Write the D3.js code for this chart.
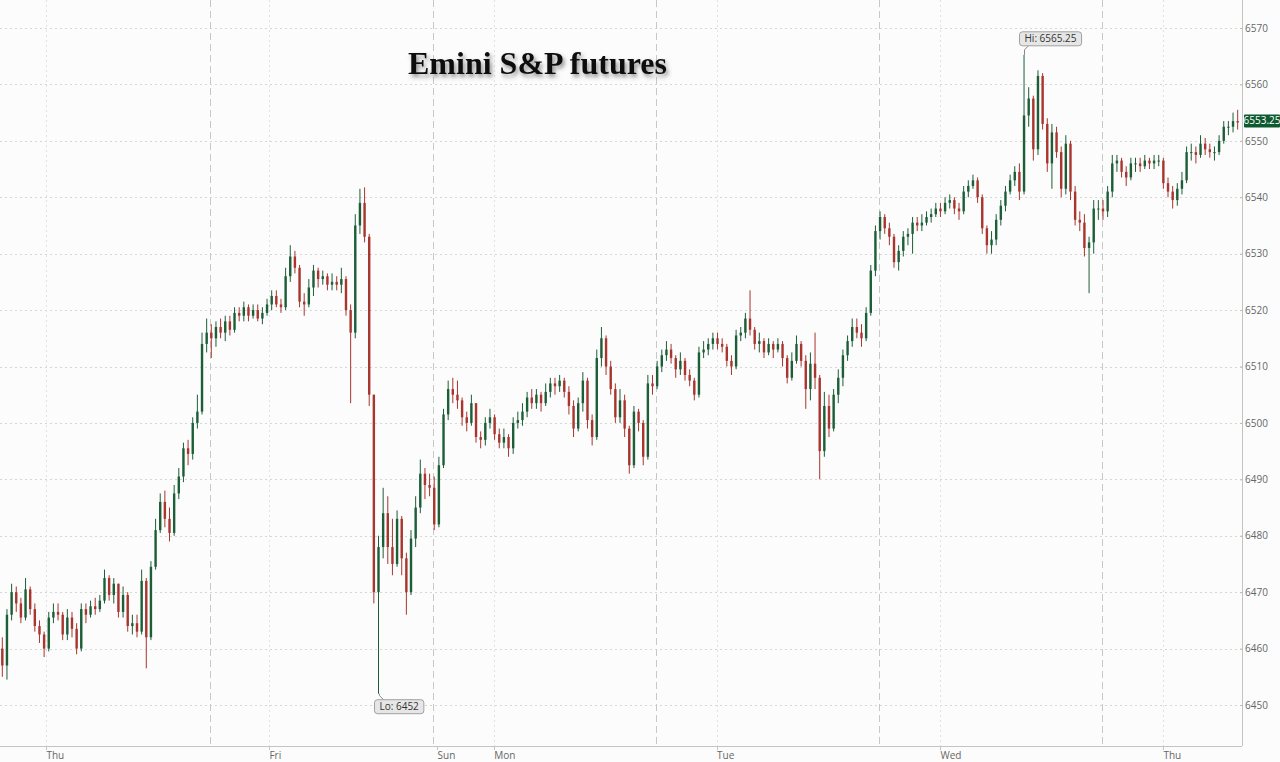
<!DOCTYPE html>
<html>
<head>
<meta charset="utf-8">
<script src="https://cdn.jsdelivr.net/npm/d3@7"></script>
<style>
  html, body { margin: 0; padding: 0; background: #fcfcfc; }
  svg { display: block; }
  text { font-family: "Open Sans", "Noto Sans", sans-serif; }
</style>
</head>
<body>
<svg id="chart" width="1280" height="762"></svg>
<script>
// ---- Data (30-minute bars) ----
const firstOpen = 6460;
const closes = [
  6457, 6466, 6470, 6468, 6465.5, 6470.5, 6467, 6464, 6462.5, 6460,
  6465.5, 6466.5, 6466, 6462.5, 6465.5, 6463.5, 6460, 6467, 6466, 6467.5,
  6467, 6468.5, 6472.5, 6469.5, 6471.5, 6466.5, 6469.5, 6464, 6464.5, 6463,
  6472, 6462, 6474.5, 6481, 6486, 6483, 6480.5, 6487.5, 6490.5, 6495.5,
  6494.5, 6500, 6502, 6514, 6516, 6515, 6517, 6516, 6518, 6516.5,
  6519.5, 6519, 6520.5, 6519, 6520, 6518.5, 6519.5, 6521, 6522.5, 6521,
  6520.5, 6526, 6529.5, 6527.5, 6521.5, 6521, 6524, 6527, 6525.5, 6526,
  6524.5, 6525, 6524.5, 6525.5, 6520, 6516, 6535, 6539, 6533, 6505,
  6470, 6478, 6484, 6478, 6475, 6483, 6476, 6470, 6479.5, 6485,
  6491, 6489, 6488.5, 6482, 6492.5, 6501.5, 6506, 6505, 6504, 6501,
  6500, 6503.5, 6497.5, 6497, 6500, 6501, 6498, 6496.5, 6497.5, 6495.5,
  6500, 6500.5, 6502, 6504.5, 6503.5, 6505, 6503.5, 6505.5, 6507, 6506.5,
  6507.5, 6505.5, 6503, 6499, 6503.5, 6507.5, 6500.5, 6497.5, 6511.5, 6515,
  6510, 6506, 6501, 6504, 6499, 6492.5, 6502, 6500, 6494, 6507,
  6506.5, 6510, 6512, 6513, 6511.5, 6509.5, 6511, 6508.5, 6507.5, 6505,
  6512.5, 6513, 6514, 6515, 6514, 6513.5, 6511, 6510, 6515.5, 6516,
  6518.5, 6516.5, 6514, 6514.5, 6512.5, 6514, 6513, 6514, 6511.5, 6508,
  6511, 6514, 6511, 6506, 6510.5, 6508, 6495, 6503, 6499, 6505,
  6508, 6512, 6514.5, 6517, 6516, 6515, 6519.5, 6527, 6534, 6536.5,
  6534.5, 6533, 6528.5, 6530.5, 6533, 6533.5, 6535.5, 6535, 6535.5, 6536.5,
  6537, 6538, 6537.5, 6539, 6539.5, 6538, 6537.5, 6541, 6542, 6543,
  6540, 6534.5, 6531.5, 6532.5, 6536, 6538.5, 6541, 6543, 6544.5, 6541,
  6554.5, 6557.5, 6548.5, 6561.5, 6553, 6546, 6551.5, 6548, 6541.5, 6549.5,
  6541, 6536, 6535.5, 6531, 6532, 6538, 6538, 6537.5, 6541, 6546,
  6546.5, 6544.5, 6543.5, 6546, 6546, 6545.5, 6546.5, 6546, 6546.5, 6546.5,
  6542.5, 6541, 6539.5, 6541.5, 6543, 6548, 6548, 6547.5, 6549.5, 6548.5,
  6548, 6548, 6550, 6552.5, 6552.5, 6553.5, 6553.25
];
const highs = [
  6462, 6467, 6471.5, 6471, 6469, 6472.5, 6471, 6468, 6465, 6463,
  6466.5, 6468, 6468, 6466.5, 6467, 6466.5, 6464.5, 6468, 6468, 6468.5,
  6469, 6469.5, 6474, 6473, 6472.5, 6471.5, 6471, 6470, 6466, 6466,
  6474, 6472.5, 6475.5, 6483, 6487.5, 6488, 6485, 6489, 6492, 6496.5,
  6497, 6501, 6505, 6516, 6518.5, 6517.5, 6518, 6518.5, 6519, 6519,
  6520.5, 6520.5, 6521.5, 6521, 6521, 6521, 6520.5, 6522, 6523.5, 6523.5,
  6522, 6527.5, 6531.5, 6530.5, 6528, 6523, 6525.5, 6528, 6527.5, 6527,
  6526.5, 6526.5, 6526, 6527.5, 6526, 6521, 6537, 6541.5, 6541.75, 6533.5,
  6505, 6480, 6488.5, 6487, 6483, 6484.5, 6483.5, 6477, 6481, 6487,
  6493.5, 6492, 6491, 6490.5, 6494, 6502.5, 6507.5, 6508, 6507.5, 6504.5,
  6502, 6505, 6503.5, 6498.5, 6501, 6502.5, 6501.5, 6499, 6499, 6498,
  6501, 6502, 6503.5, 6505.5, 6506, 6506, 6505.5, 6507, 6508, 6508,
  6508.5, 6508, 6506.5, 6504, 6504.5, 6509, 6508, 6501.5, 6513, 6517,
  6515.5, 6511, 6507, 6506, 6505, 6499.5, 6503, 6502.5, 6500.5, 6508.5,
  6508.5, 6511, 6513, 6514.5, 6514, 6512, 6512.5, 6511.5, 6509.5, 6508,
  6513.5, 6514.5, 6515, 6516, 6516, 6515, 6514, 6512, 6516.5, 6517,
  6519.5, 6523.5, 6517, 6516, 6515, 6515, 6514.5, 6515, 6514.5, 6512,
  6512.5, 6515.5, 6514.5, 6512, 6512.5, 6516, 6508.5, 6505.5, 6505, 6506,
  6509.5, 6513, 6515.5, 6518.5, 6518.5, 6517.5, 6520.5, 6528, 6535, 6537.5,
  6537, 6535.5, 6533.5, 6531.5, 6534, 6534.5, 6536.5, 6536.5, 6537, 6537.5,
  6538, 6539, 6539, 6540, 6540.5, 6540, 6539, 6542, 6543, 6544,
  6543.5, 6540.5, 6535, 6534, 6537, 6539.5, 6542, 6544, 6545.5, 6546,
  6565.25, 6559.5, 6558, 6562.5, 6562, 6554, 6553, 6552.5, 6549, 6551,
  6550, 6542, 6537.5, 6537, 6533, 6539.5, 6539.5, 6539.5, 6542, 6547.5,
  6547.5, 6547, 6545.5, 6547, 6547, 6547, 6547.5, 6547, 6547.5, 6547.5,
  6547, 6543.5, 6542, 6542.5, 6544.5, 6549, 6549.5, 6549, 6551, 6550.5,
  6549.5, 6549, 6551, 6553.5, 6553.5, 6555, 6555.5
];
const lows = [
  6455, 6454.5, 6465, 6466.5, 6464.5, 6465, 6466, 6463, 6461, 6458.5,
  6459.5, 6464.5, 6465, 6461.5, 6461.5, 6462, 6459, 6459.5, 6464.5, 6465.5,
  6466, 6466.5, 6468, 6468.5, 6468, 6465.5, 6465.5, 6463, 6462.5, 6462,
  6462.5, 6456.5, 6461.5, 6474, 6480.5, 6481.5, 6479, 6480, 6486.5, 6489.5,
  6492.5, 6493.5, 6499, 6501.5, 6512.5, 6511.5, 6513.5, 6515, 6514.5, 6515.5,
  6516, 6518, 6518, 6518, 6518.5, 6518, 6517.5, 6519, 6520, 6520.5,
  6519.5, 6520, 6525, 6526.5, 6520.5, 6519, 6520.5, 6522.5, 6524, 6524.5,
  6523.5, 6523.5, 6523.5, 6523, 6519, 6503.5, 6515, 6533.5, 6532, 6503,
  6468, 6452, 6476, 6475, 6473, 6474.5, 6473, 6466, 6469.5, 6478,
  6484, 6486.5, 6487, 6481, 6481.5, 6492, 6500.5, 6503.5, 6502.5, 6499.5,
  6498.5, 6499.5, 6496.5, 6495.5, 6496, 6499, 6497, 6495.5, 6495.5, 6494,
  6494.5, 6499, 6499.5, 6501, 6502.5, 6502.5, 6502, 6503, 6504.5, 6505,
  6505.5, 6504.5, 6501.5, 6497.5, 6498.5, 6502, 6499, 6496, 6497, 6510,
  6508.5, 6505, 6500, 6500, 6497.5, 6491, 6492, 6498.5, 6492.5, 6493.5,
  6505, 6506, 6509, 6511, 6510.5, 6508, 6508.5, 6507.5, 6506.5, 6504,
  6504.5, 6511.5, 6512, 6513, 6513, 6512.5, 6510, 6508.5, 6509.5, 6514.5,
  6515, 6515.5, 6513, 6512.5, 6511.5, 6512, 6511.5, 6512.5, 6510, 6507,
  6507.5, 6510.5, 6510, 6502.5, 6504, 6506, 6490, 6494, 6497.5, 6498.5,
  6503.5, 6506.5, 6511, 6513.5, 6515, 6513.5, 6514.5, 6519, 6526, 6532.5,
  6533.5, 6531.5, 6527.5, 6527, 6529.5, 6531.5, 6530, 6534, 6534, 6535,
  6535.5, 6536.5, 6536.5, 6537, 6538, 6537, 6536, 6537, 6540, 6541.5,
  6539, 6533.5, 6530, 6530, 6531.5, 6535, 6537.5, 6540.5, 6542, 6539.5,
  6540.5, 6552.5, 6546.5, 6547.5, 6552, 6544.5, 6541.5, 6547, 6540, 6540.5,
  6539.5, 6535, 6534, 6529.5, 6523, 6530, 6536, 6536, 6536.5, 6540,
  6544.5, 6543.5, 6542, 6543, 6544.5, 6544.5, 6545, 6545, 6545, 6545.5,
  6541.5, 6540, 6538, 6538.5, 6540.5, 6542.5, 6546.5, 6546, 6547, 6547.5,
  6547, 6546.5, 6547.5, 6549.5, 6551, 6551.5, 6552
];
const yTicks = [6450, 6460, 6470, 6480, 6490, 6500, 6510, 6520, 6530, 6540, 6550, 6560, 6570];
const dayLabels = ["Thu", "Fri", "Sun", "Mon", "Tue", "Wed", "Thu"];
const dayPositions = [9.9, 57.9, 94.1, 106.3, 154.3, 202.4, 250.4];   // in bar units
const sessionBreaks = [45.2, 93.2, 141.2, 189.2, 237.2];              // in bar units
const titleText = "Emini S&P futures";
const hiValue = 6565.25, hiBar = 220;
const loValue = 6452, loBar = 81;

// ---- Build candles ----
const candles = closes.map((c, i) => {
  const o = i === 0 ? firstOpen : closes[i - 1];
  return { i, o, c, h: Math.max(highs[i], o, c), l: Math.min(lows[i], o, c) };
});

const svg = d3.select("#chart");
const W = 1280, H = 762;
const plotRight = 1242, plotBottom = 746;

const x = d3.scaleLinear().domain([0, closes.length]).range([0, 1240]);
const y = d3.scaleLinear().domain([6450, 6570]).range([705, 28]);

svg.append("rect").attr("width", W).attr("height", H).attr("fill", "#fcfcfc");

const defs = svg.append("defs");
const f = defs.append("filter").attr("id", "shadow").attr("x", "-10%").attr("y", "-30%").attr("width", "120%").attr("height", "170%");
f.append("feDropShadow").attr("dx", 2).attr("dy", 3).attr("stdDeviation", 2)
  .attr("flood-color", "#444").attr("flood-opacity", 0.6);
defs.append("clipPath").attr("id", "plotclip").append("rect")
  .attr("x", 0).attr("y", 0).attr("width", plotRight).attr("height", plotBottom);

// Horizontal dotted gridlines
svg.append("g").selectAll("line").data(yTicks).join("line")
  .attr("x1", 0).attr("x2", plotRight)
  .attr("y1", d => Math.round(y(d)) + 0.5).attr("y2", d => Math.round(y(d)) + 0.5)
  .attr("stroke", "#d6d6d6").attr("stroke-dasharray", "2,3");

// Vertical dotted gridlines at day labels
svg.append("g").selectAll("line").data(dayPositions.filter((d, k) => dayLabels[k] !== "Sun")).join("line")
  .attr("x1", d => Math.round(x(d)) + 0.5).attr("x2", d => Math.round(x(d)) + 0.5)
  .attr("y1", 0).attr("y2", plotBottom)
  .attr("stroke", "#e2e2e2").attr("stroke-dasharray", "2,3");

// Session break dashed lines
svg.append("g").selectAll("line").data(sessionBreaks).join("line")
  .attr("x1", d => Math.round(x(d)) + 0.5).attr("x2", d => Math.round(x(d)) + 0.5)
  .attr("y1", 0).attr("y2", plotBottom)
  .attr("stroke", "#c8c8c8").attr("stroke-dasharray", "7,4");

// Title
svg.append("text").attr("x", 408).attr("y", 74)
  .attr("font-weight", "bold").attr("font-size", 32).attr("fill", "#111")
  .attr("filter", "url(#shadow)")
  .style("font-family", "'Liberation Serif', 'DejaVu Serif', serif")
  .text(titleText);

// Candles
const up = "#1c5e38", down = "#a8352e";
const bw = 2.4;
const cg = svg.append("g").attr("clip-path", "url(#plotclip)");
cg.selectAll("line.wick").data(candles).join("line").attr("class", "wick")
  .attr("x1", d => x(d.i + 0.5)).attr("x2", d => x(d.i + 0.5))
  .attr("y1", d => y(d.h)).attr("y2", d => y(d.l))
  .attr("stroke", d => d.c >= d.o ? up : down).attr("stroke-width", 1);
cg.selectAll("rect.body").data(candles).join("rect").attr("class", "body")
  .attr("x", d => x(d.i + 0.5) - bw / 2).attr("width", bw)
  .attr("y", d => y(Math.max(d.o, d.c)))
  .attr("height", d => Math.max(1, Math.abs(y(d.o) - y(d.c))))
  .attr("fill", d => d.c >= d.o ? up : down);

// Axes lines
svg.append("line").attr("x1", plotRight + 0.5).attr("x2", plotRight + 0.5).attr("y1", 0).attr("y2", plotBottom)
  .attr("stroke", "#c4c4c4");
svg.append("line").attr("x1", 0).attr("x2", plotRight).attr("y1", plotBottom + 0.5).attr("y2", plotBottom + 0.5)
  .attr("stroke", "#c4c4c4");

// Y axis (right)
const yAxis = d3.axisRight(y).tickValues(yTicks).tickSize(3).tickPadding(2).tickFormat(d3.format("d"));
const ya = svg.append("g").attr("transform", `translate(${plotRight - 2},0)`).call(yAxis);
ya.select(".domain").remove();
ya.selectAll("line").attr("stroke", "#bbb");
ya.selectAll("text").attr("font-size", 10).attr("fill", "#666")
  .attr("font-family", "'Open Sans', sans-serif");

// X axis labels
const xg = svg.append("g");
xg.selectAll("line").data(dayPositions).join("line")
  .attr("x1", d => Math.round(x(d)) + 0.5).attr("x2", d => Math.round(x(d)) + 0.5)
  .attr("y1", plotBottom).attr("y2", plotBottom + 4).attr("stroke", "#c4c4c4");
xg.selectAll("text").data(dayPositions).join("text")
  .attr("x", d => x(d) + 0.5).attr("y", 759)
  .attr("font-size", 10).attr("fill", "#666")
  .text((d, k) => dayLabels[k]);

// Hi / Lo callouts
function callout(bar, value, label, above) {
  const px = Math.round(x(bar + 0.5)) + 0.5;
  const py = y(value);
  const g = svg.append("g");
  const t = g.append("text").attr("font-size", 10).attr("fill", "#333").text(label);
  const tw = t.node().getComputedTextLength();
  const bwid = tw + 10, bh = 14;
  const bx = px - 5;
  const by = above ? py - 23 : py + 6;
  const cy = above ? by + bh : by;
  g.insert("path", "text")
    .attr("d", above
      ? `M${px},${py} L${px},${cy + 4} L${px + 4},${cy}`
      : `M${px},${py} L${px},${cy - 4} L${px + 4},${cy}`)
    .attr("fill", "none").attr("stroke", "#888");
  g.insert("rect", "text").attr("x", bx).attr("y", by).attr("width", bwid).attr("height", bh)
    .attr("rx", 3).attr("fill", "#e6e6e6").attr("stroke", "#a0a0a0");
  t.attr("x", bx + 5).attr("y", by + 10.5);
}
callout(hiBar, hiValue, "Hi: " + hiValue, true);
callout(loBar, loValue, "Lo: " + loValue, false);

// Last price tag
const last = closes[closes.length - 1];
const ly = y(last);
svg.append("rect").attr("x", 1244).attr("y", ly - 8).attr("width", 36).attr("height", 13)
  .attr("fill", "#0e5a30").attr("rx", 1);
svg.append("text").attr("x", 1262).attr("y", ly + 2).attr("text-anchor", "middle")
  .attr("font-size", 10).attr("fill", "#fff").text(d3.format(".2f")(last));
</script>
</body>
</html>
